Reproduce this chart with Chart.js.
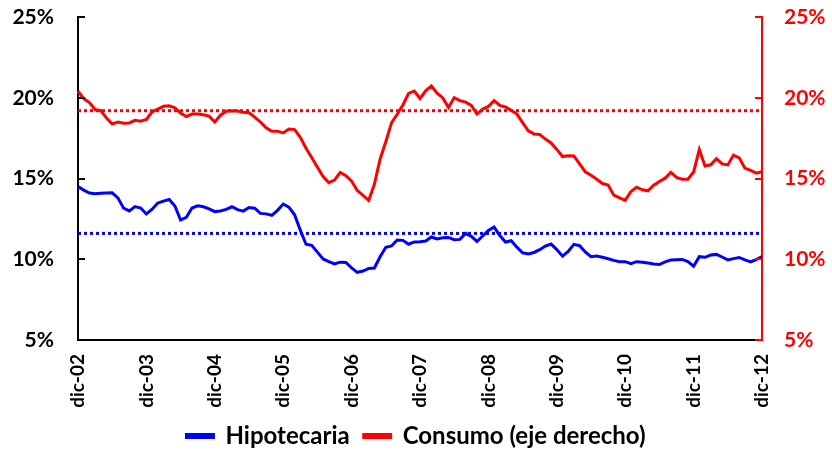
<!DOCTYPE html>
<html>
<head>
<meta charset="utf-8">
<script src="https://cdn.jsdelivr.net/npm/chart.js@4.4.0/dist/chart.umd.min.js"></script>
<style>
  html, body { margin:0; padding:0; background:#fff; }
  #wrap { width:832px; height:453px; }
</style>
</head>
<body>
<div id="wrap"><canvas id="tasas"></canvas></div>
<script>
// meses (dic-02 .. dic-12)
var mesesNombre = ['ene','feb','mar','abr','may','jun','jul','ago','sep','oct','nov','dic'];
var anios = ['02','03','04','05','06','07','08','09','10','11','12'];
var meses = ['dic-02'];
for (var a = 1; a < anios.length; a++) {
    for (var m = 0; m < 12; m++) meses.push(mesesNombre[m] + '-' + anios[a]);
}

var hipotecaria = [
 14.50,14.28,14.10,14.05,14.08,14.10,14.11,13.80,13.16,12.99,13.26,13.17,
 12.80,13.10,13.48,13.60,13.70,13.30,12.43,12.60,13.17,13.31,13.25,13.12,
 12.95,12.99,13.09,13.25,13.07,12.98,13.20,13.16,12.84,12.81,12.72,13.03,
 13.42,13.23,12.75,11.80,10.93,10.86,10.44,10.02,9.86,9.71,9.82,9.80,
 9.47,9.19,9.27,9.43,9.46,10.15,10.74,10.82,11.19,11.17,10.93,11.07,
 11.09,11.13,11.38,11.26,11.33,11.35,11.21,11.23,11.60,11.42,11.10,11.44,
 11.78,11.99,11.47,11.07,11.15,10.75,10.40,10.33,10.42,10.59,10.82,10.94,
 10.60,10.19,10.49,10.92,10.84,10.45,10.16,10.20,10.12,10.03,9.93,9.85,
 9.85,9.73,9.85,9.82,9.77,9.70,9.67,9.84,9.95,9.97,9.99,9.86,
 9.57,10.16,10.12,10.26,10.30,10.14,9.96,10.04,10.11,9.96,9.83,9.98,
 10.16
];

var consumo = [
 20.40,19.95,19.70,19.27,19.20,18.75,18.38,18.50,18.42,18.44,18.60,18.55,
 18.66,19.13,19.30,19.47,19.50,19.38,19.05,18.83,18.99,18.99,18.95,18.86,
 18.50,18.92,19.17,19.20,19.18,19.10,19.07,18.80,18.50,18.14,17.92,17.93,
 17.82,18.06,18.03,17.55,16.87,16.30,15.70,15.12,14.74,14.90,15.38,15.17,
 14.84,14.26,13.96,13.65,14.65,16.20,17.28,18.45,18.98,19.55,20.27,20.42,
 19.96,20.43,20.73,20.28,19.99,19.40,20.00,19.82,19.73,19.53,18.99,19.30,
 19.46,19.82,19.52,19.43,19.22,18.99,18.46,17.95,17.76,17.73,17.44,17.20,
 16.80,16.36,16.41,16.40,15.90,15.41,15.20,14.95,14.69,14.60,13.97,13.80,
 13.65,14.20,14.46,14.30,14.24,14.58,14.82,15.02,15.38,15.07,14.96,14.96,
 15.40,16.80,15.77,15.85,16.23,15.90,15.84,16.45,16.28,15.64,15.50,15.33,
 15.42
];

// promedios del periodo (lineas punteadas)
var promedioHipotecaria = 11.6;
var promedioConsumo = 19.2;

var yTicks = [5, 10, 15, 20, 25];

// ticks cortos hacia adentro en los ejes verticales
var ticksInternos = {
    id: 'ticksInternos',
    afterDatasetsDraw: function(chart) {
        var ctx = chart.ctx;
        var ca = chart.chartArea;
        ctx.save();
        ctx.lineWidth = 2;
        ctx.strokeStyle = '#000';
        yTicks.forEach(function(v) {
            var y = Math.round(chart.scales.y.getPixelForValue(v));
            ctx.beginPath(); ctx.moveTo(ca.left, y); ctx.lineTo(ca.left + 7, y); ctx.stroke();
        });
        ctx.strokeStyle = '#ff0000';
        yTicks.forEach(function(v) {
            var y = Math.round(chart.scales.y1.getPixelForValue(v));
            ctx.beginPath(); ctx.moveTo(ca.right, y); ctx.lineTo(ca.right - 7, y); ctx.stroke();
        });
        ctx.restore();
    }
};

// ancho fijo de los ejes verticales y margen superior
function ajusteEjeY(ancho) {
    return function(scale) {
        scale.width = ancho;
        scale.paddingTop = 17;
        scale.paddingBottom = 10;
    };
}

var ctx = document.getElementById('tasas').getContext('2d');
var tasasChart = new Chart(ctx, {
    type: 'line',
    data: {
        labels: meses,
        datasets: [{
            label: 'Hipotecaria',
            data: hipotecaria,
            borderColor: '#0000ff',
            backgroundColor: '#0000ff',
            borderWidth: 3,
            pointRadius: 0,
            tension: 0,
            yAxisID: 'y'
        },
        {
            label: 'Consumo (eje derecho)',
            data: consumo,
            borderColor: '#ff0000',
            backgroundColor: '#ff0000',
            borderWidth: 3,
            pointRadius: 0,
            tension: 0,
            yAxisID: 'y1'
        },
        {
            label: 'promedio hipotecaria',
            data: [{x: meses[0], y: promedioHipotecaria}, {x: meses[meses.length - 1], y: promedioHipotecaria}],
            borderColor: '#0000ff',
            borderWidth: 3,
            borderDash: [3, 3],
            pointRadius: 0,
            yAxisID: 'y'
        },
        {
            label: 'promedio consumo',
            data: [{x: meses[0], y: promedioConsumo}, {x: meses[meses.length - 1], y: promedioConsumo}],
            borderColor: '#ff0000',
            borderWidth: 3,
            borderDash: [3, 3],
            pointRadius: 0,
            yAxisID: 'y1'
        }]
    },
    options: {
        responsive: true,
        maintainAspectRatio: false,
        animation: false,
        layout: { padding: { top: 0, bottom: -5, left: 0, right: 0 } },
        plugins: {
            tooltip: { enabled: false },
            legend: {
                position: 'bottom',
                labels: {
                    boxWidth: 27,
                    boxHeight: 3,
                    padding: 14,
                    color: '#000',
                    font: { family: 'Lato', size: 24, weight: 'bold' },
                    filter: function(item) { return item.datasetIndex < 2; }
                }
            }
        },
        scales: {
            x: {
                offset: false,
                grid: { display: false, drawTicks: false },
                border: { display: true, color: '#000', width: 2 },
                ticks: {
                    autoSkip: false,
                    maxRotation: 90,
                    minRotation: 90,
                    padding: 14,
                    color: '#000',
                    font: { family: 'Lato', size: 19, weight: 'bold' },
                    callback: function(value, index) {
                        var l = meses[index];
                        return l.indexOf('dic') === 0 ? l : '';
                    }
                },
                afterFit: function(scale) { scale.height = 70; }
            },
            y: {
                position: 'left',
                min: 5,
                max: 25,
                grid: { display: false, drawTicks: false },
                border: { display: true, color: '#000', width: 2 },
                ticks: {
                    stepSize: 5,
                    padding: 24,
                    color: '#000',
                    font: { family: 'Lato', size: 21, weight: 'bold' },
                    callback: function(v) { return v + '%'; }
                },
                afterFit: ajusteEjeY(78)
            },
            y1: {
                position: 'right',
                min: 5,
                max: 25,
                grid: { display: false, drawTicks: false },
                border: { display: true, color: '#ff0000', width: 2 },
                ticks: {
                    stepSize: 5,
                    padding: 22,
                    color: '#ff0000',
                    font: { family: 'Lato', size: 21, weight: 'bold' },
                    callback: function(v) { return v + '%'; }
                },
                afterFit: ajusteEjeY(70)
            }
        }
    },
    plugins: [ticksInternos]
});
</script>
</body>
</html>
